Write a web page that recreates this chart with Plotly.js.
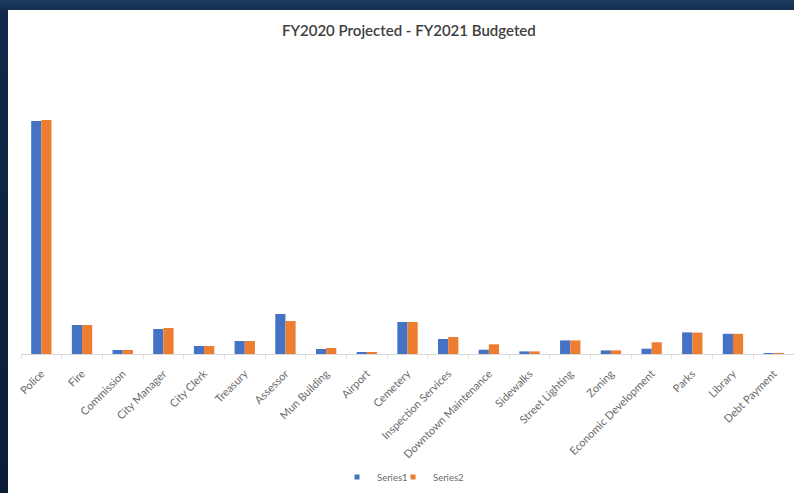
<!DOCTYPE html>
<html>
<head>
<meta charset="utf-8">
<script src="https://cdn.plot.ly/plotly-3.0.1.min.js"></script>
<style>
  html, body { margin: 0; padding: 0; width: 794px; height: 493px; overflow: hidden;
    background: linear-gradient(180deg, #1d3d60 0px, #10294a 12px, #0b1d36 100%); }
  #chart { position: absolute; left: 8px; top: 10px; width: 786px; height: 483px; background: #fff; }
</style>
</head>
<body>
<div id="chart"></div>
<script>
const categories = ["Police", "Fire", "Commission", "City Manager", "City Clerk", "Treasury", "Assessor",
  "Mun Building", "Airport", "Cemetery", "Inspection Services", "Downtown Maintenance", "Sidewalks",
  "Street Lighting", "Zoning", "Economic Development", "Parks", "Library", "Debt Payment"];
const series1 = [233, 29, 4, 25, 8, 13, 40, 5, 2, 32, 15, 4.3, 2.6, 13.6, 3.6, 5.3, 21.6, 20.2, 1];
const series2 = [234, 29, 4, 26, 8, 13, 33, 6, 2, 32, 17, 9.7, 2.6, 13.6, 3.6, 11.7, 21.4, 20.2, 1];
const seriesNames = ["Series1", "Series2"];
const seriesColors = ["#4472C4", "#ED7D31"];
</script>
<script>
const traces = [
  { type: 'bar', name: seriesNames[0], x: categories, y: series1, marker: { color: seriesColors[0] }, showlegend: false },
  { type: 'bar', name: seriesNames[1], x: categories, y: series2, marker: { color: seriesColors[1] }, showlegend: false },
  // legend-only entries with small square markers (Excel style)
  { type: 'scatter', mode: 'markers', name: seriesNames[0], x: [null], y: [null], legend: 'legend',
    marker: { symbol: 'square', size: 5, color: seriesColors[0] } },
  { type: 'scatter', mode: 'markers', name: seriesNames[1], x: [null], y: [null], legend: 'legend2',
    marker: { symbol: 'square', size: 5, color: seriesColors[1] } }
];
const legendBase = {
  orientation: 'h', xref: 'container', xanchor: 'left',
  y: 1 - 467 / 483, yref: 'container', yanchor: 'middle',
  font: { size: 9.5, color: '#6a6a6a' }, itemwidth: 30, bgcolor: 'rgba(0,0,0,0)'
};
const layout = {
  width: 786, height: 483,
  paper_bgcolor: '#ffffff', plot_bgcolor: '#ffffff',
  margin: { l: 13, r: 0, t: 50, b: 139 },
  font: { family: 'Lato, "Open Sans", sans-serif', color: '#595959' },
  title: { text: 'FY2020 Projected - FY2021 Budgeted', x: 0.51, xref: 'container', xanchor: 'center',
           y: 1 - 21 / 483, yref: 'container', yanchor: 'middle',
           font: { family: 'Lato, "Open Sans", sans-serif', size: 15, color: '#404040', weight: 600 } },
  barmode: 'group', bargap: 0.5, bargroupgap: 0,
  xaxis: { type: 'category', tickangle: -45, tickfont: { size: 11, color: '#6a6a6a' },
           showline: true, linecolor: '#d9d9d9', linewidth: 1, ticks: 'outside', tickson: 'boundaries',
           ticklen: 4, tickcolor: '#e0e0e0', ticklabelstandoff: 8, showgrid: false, fixedrange: true },
  yaxis: { range: [0, 294], visible: false, showgrid: false, zeroline: false, fixedrange: true },
  showlegend: true,
  legend: Object.assign({}, legendBase, { x: (357 - 8 - 20) / 786 }),
  legend2: Object.assign({}, legendBase, { x: (413 - 8 - 20) / 786 })
};
Plotly.newPlot('chart', traces, layout, { displayModeBar: false, staticPlot: true });
</script>
</body>
</html>
